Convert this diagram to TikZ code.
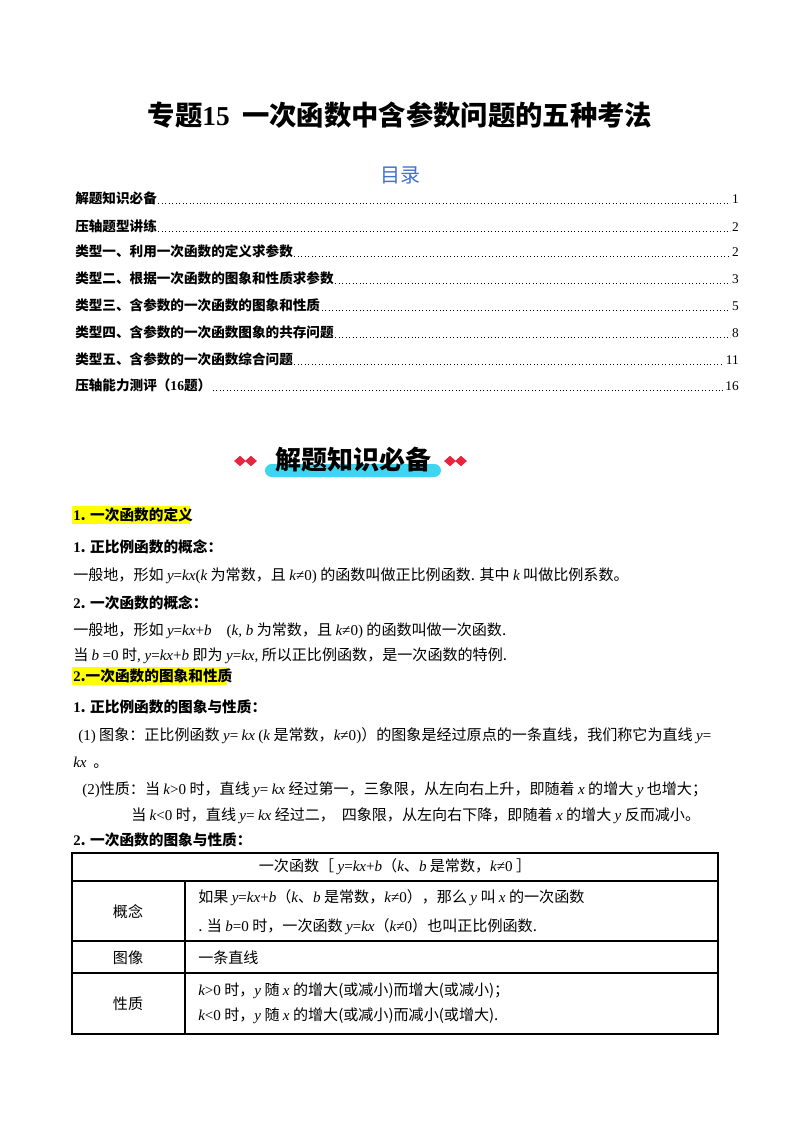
\documentclass[tikz,border=0pt]{standalone}
\usepackage{fontspec}
\setmainfont{Noto Sans CJK SC}
\newfontfamily\lat{Liberation Serif}
\newcommand\mm[1]{{\lat\itshape #1}}
\newcommand\rr[1]{{\lat #1}}
\usetikzlibrary{shapes.geometric}
\definecolor{tocblue}{HTML}{4472C4}
\definecolor{hl}{HTML}{FFFF00}
\definecolor{dred}{HTML}{E8253F}
\definecolor{bar}{HTML}{3ED6EE}
\begin{document}
\begin{tikzpicture}[x=0.75pt,y=-0.75pt,
  txt/.style={anchor=base west,inner sep=0pt,font=\fontsize{11.3}{13}\selectfont},
  bld/.style={txt,font=\fontsize{11}{13}\selectfont\bfseries},
  tocitem/.style={anchor=base west,inner sep=0pt,font=\fontsize{10.2}{12}\selectfont\bfseries},
  tocnum/.style={anchor=base east,inner sep=0pt,font=\fontsize{10}{12}\selectfont\lat},
  lead/.style={dotted,line width=0.6pt},
  dia/.style={diamond,fill=dred,inner sep=0pt,minimum width=9pt,minimum height=8pt},
  cell/.style={anchor=center,inner sep=0pt,font=\fontsize{11.3}{13}\selectfont}]
\useasboundingbox (0,0) rectangle (800,1132);
\fill[white] (0,0) rectangle (800,1132);
\node[font=\fontsize{20.5}{24}\selectfont\bfseries] (title) at (400,115) {专题\rr{\textbf{15}}\ \ 一次函数中含参数问题的五种考法};
\node[font=\fontsize{15}{18}\selectfont,text=tocblue] (mulu) at (400,175) {目录};
\foreach \n/\y/\t/\p in {1/203/解题知识必备/1,2/231/压轴题型讲练/2,3/256/类型一、利用一次函数的定义求参数/2,4/283/类型二、根据一次函数的图象和性质求参数/3,5/310/类型三、含参数的一次函数的图象和性质/5,6/337/类型四、含参数的一次函数图象的共存问题/8,7/364/类型五、含参数的一次函数综合问题/11,8/390/压轴能力测评（\rr{16}题）/16}{
  \node[tocitem] (t\n) at (75,\y) {\t};
  \node[tocnum] (p\n) at (739,\y) {\p};
  \draw[lead] ([xshift=1pt]t\n.base east) -- ([xshift=-1pt]p\n.base west);
}
% banner
\fill[bar,rounded corners=5pt] (265,464) rectangle (441,477);
\node[font=\fontsize{19.5}{22}\selectfont\bfseries] (ban) at (353,460) {解题知识必备};
\node[dia] (d1) at (240,461) {}; \node[dia] (d2) at (251,461) {};
\node[dia] (d3) at (450,461) {}; \node[dia] (d4) at (461,461) {};
% section 1
\fill[hl] (72,506) rectangle (190,524);
\node[bld] (s1) at (73,520) {\rr{\textbf{1}}. 一次函数的定义};
\node[bld] (a1) at (73,552) {\rr{\textbf{1}}. 正比例函数的概念：};
\node[txt] (a2) at (73,580) {一般地，形如 \mm{y}\rr{=}\mm{kx}\rr{(}\mm{k} 为常数，且 \mm{k}\rr{≠0)} 的函数叫做正比例函数. 其中 \mm{k} 叫做比例系数。};
\node[bld] (a3) at (73,608) {\rr{\textbf{2}}. 一次函数的概念：};
\node[txt] (a4) at (73,635) {一般地，形如 \mm{y}\rr{=}\mm{kx}\rr{+}\mm{b}\quad\rr{(}\mm{k}\rr{, }\mm{b} 为常数，且 \mm{k}\rr{≠0)} 的函数叫做一次函数.};
\node[txt] (a5) at (73,660) {当 \mm{b}\ \rr{=0} 时\rr{, }\mm{y}\rr{=}\mm{kx}\rr{+}\mm{b} 即为 \mm{y}\rr{=}\mm{kx}\rr{,} 所以正比例函数，是一次函数的特例.};
\fill[hl] (72,667) rectangle (227,685);
\node[bld] (s2) at (73,681) {\rr{\textbf{2}}.一次函数的图象和性质};
\node[bld] (b1) at (73,712) {\rr{\textbf{1}}. 正比例函数的图象与性质：};
\node[txt] (b2) at (78,740) {\rr{(1)} 图象：正比例函数 \mm{y}\rr{=}\ \mm{kx}\ \rr{(}\mm{k}\ 是常数，\mm{k}\rr{≠0)}）的图象是经过原点的一条直线，我们称它为直线 \mm{y}\rr{=}};
\node[txt] (b3) at (73,767) {\mm{kx}\ \ 。};
\node[txt] (b4) at (82,794) {\rr{(2)}性质：当 \mm{k}\rr{>0} 时，直线 \mm{y}\rr{=}\ \mm{kx} 经过第一，三象限，从左向右上升，即随着 \mm{x} 的增大 \mm{y} 也增大；};
\node[txt] (b5) at (131,820) {当 \mm{k}\rr{<0} 时，直线 \mm{y}\rr{=}\ \mm{kx} 经过二，\ \ 四象限，从左向右下降，即随着 \mm{x} 的增大 \mm{y} 反而减小。};
\node[bld] (b6) at (73,845) {\rr{\textbf{2}}. 一次函数的图象与性质：};
% table
\draw[line width=0.8pt] (72,853) rectangle (718,1034);
\draw[line width=0.8pt] (72,881) -- (718,881) (72,941) -- (718,941) (72,973) -- (718,973) (185,881) -- (185,1034);
\node[cell] (h) at (395,867) {一次函数［ \mm{y}\rr{=}\mm{kx}\rr{+}\mm{b}（\mm{k}、\mm{b} 是常数，\mm{k}\rr{≠0} ］};
\node[cell] (c1) at (128,912) {概念};
\node[txt] (c1a) at (198,902) {如果 \mm{y}\rr{=}\mm{kx}\rr{+}\mm{b}（\mm{k}、\mm{b} 是常数，\mm{k}\rr{≠0}），那么 \mm{y} 叫 \mm{x} 的一次函数};
\node[txt] (c1b) at (198,931) {. 当 \mm{b}\rr{=0} 时，一次函数 \mm{y}\rr{=}\mm{kx}（\mm{k}\rr{≠0}）也叫正比例函数.};
\node[cell] (c2) at (128,958) {图像};
\node[txt] (c2a) at (198,963) {一条直线};
\node[cell] (c3) at (128,1004) {性质};
\node[txt] (c3a) at (198,995) {\mm{k}\rr{>0} 时，\mm{y} 随 \mm{x} 的增大(或减小)而增大(或减小)；};
\node[txt] (c3b) at (198,1020) {\mm{k}\rr{<0} 时，\mm{y} 随 \mm{x} 的增大(或减小)而减小(或增大).};
\end{tikzpicture}
\end{document}
